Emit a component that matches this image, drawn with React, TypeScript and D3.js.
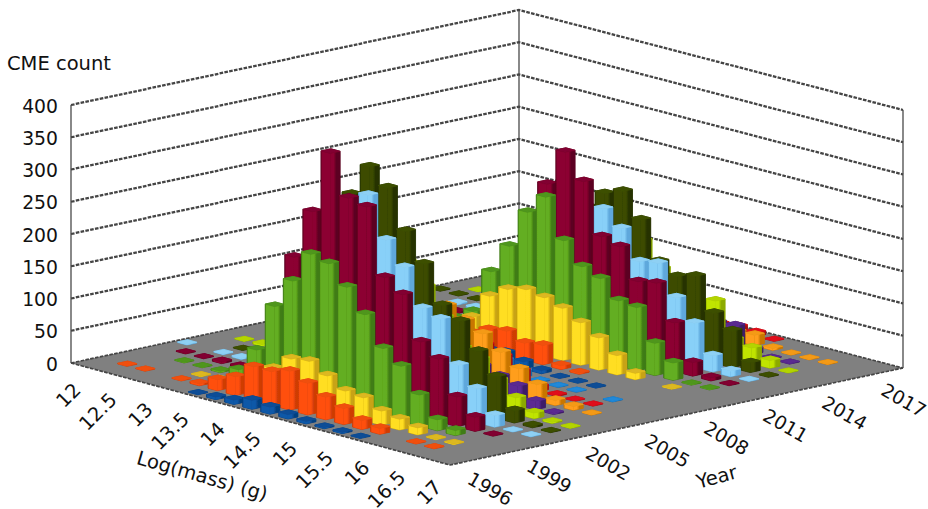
import React from "react";
import * as d3 from "d3";

const massTicks = ["12","12.5","13","13.5","14","14.5","15","15.5","16","16.5","17"];
const yearTicks = ["1996","1999","2002","2005","2008","2011","2014","2017"];
const countTicks = [0,50,100,150,200,250,300,350,400];
const massBins = d3.range(21);
const years = d3.range(1996,2019);

const y1996 = [0,0,0,0,0,0,1,4,7,14,11,7,4,2,2,1,0,0,0,0,0];
const y1997 = [0,1,1,0,1,3,17,29,52,52,60,49,35,25,14,9,0,1,1,0,0];
const y1998 = [0,0,0,0,1,3,10,25,43,65,69,54,38,35,22,17,11,1,1,0,0];
const y1999 = [0,0,1,1,2,12,50,125,172,221,214,185,150,105,85,48,17,8,0,0,0];
const y2000 = [0,1,1,3,3,15,70,195,273,371,309,303,201,182,116,97,46,22,1,0,0];
const y2001 = [1,0,1,2,5,25,60,120,180,270,307,245,210,154,145,81,52,18,1,1,0];
const y2002 = [0,0,1,5,20,60,120,200,287,337,312,252,209,152,135,96,64,19,3,1,0];
const y2003 = [0,1,3,5,8,15,30,60,100,150,190,160,120,80,70,45,25,9,2,1,0];
const y2004 = [0,0,0,1,2,4,8,15,30,60,80,70,55,45,37,29,13,2,0,0,0];
const y2005 = [0,0,0,0,1,3,6,15,30,50,110,95,81,60,42,25,8,6,1,0,0];
const y2006 = [0,0,0,0,0,1,2,3,8,20,40,50,40,25,8,2,1,1,0,0,0];
const y2007 = [0,0,0,0,0,0,1,2,10,20,25,20,10,2,1,1,0,1,0,0,0];
const y2008 = [0,0,0,0,0,0,1,3,10,15,18,11,5,1,1,1,0,0,0,0,0];
const y2009 = [0,0,0,0,0,3,8,20,32,37,26,30,6,2,0,0,0,0,0,0,0];
const y2010 = [0,0,0,0,3,10,30,70,88,95,90,81,66,50,30,10,0,1,0,0,0];
const y2011 = [0,0,0,2,8,25,94,141,201,232,172,139,128,101,98,50,27,1,1,0,0];
const y2012 = [0,0,1,3,6,20,100,186,238,295,257,179,171,124,129,75,21,5,1,0,0];
const y2013 = [0,0,2,3,10,30,70,120,170,200,208,185,141,146,100,68,25,9,1,0,0];
const y2014 = [1,1,1,3,12,40,80,130,190,218,229,192,135,119,127,77,57,15,1,0,0];
const y2015 = [0,1,1,1,2,5,15,40,80,120,146,110,60,70,82,30,24,12,1,0,0];
const y2016 = [0,0,0,0,0,1,2,4,8,15,20,25,30,35,37,8,1,1,0,0,0];
const y2017 = [0,0,0,0,0,0,1,2,3,5,8,10,12,14,16,3,1,1,1,0,0];
const y2018 = [0,0,0,0,0,0,0,0,0,0,2,5,8,6,1,0,0,0,0,0,0];
const rows = [y1996,y1997,y1998,y1999,y2000,y2001,y2002,y2003,y2004,y2005,y2006,y2007,y2008,y2009,y2010,y2011,y2012,y2013,y2014,y2015,y2016,y2017,y2018];

const palette = [
  ["#0a58a8","#064080","#0a4d96"],
  ["#ff5010","#cf3c06","#f0500f"],
  ["#ffde20","#c8a312","#dcb820"],
  ["#64ae20","#3f7c14","#4f961c"],
  ["#8c0030","#5c0020","#820030"],
  ["#88d0f8","#5ea8dc","#8ed0f4"],
  ["#3c4c00","#263200","#3e5000"],
  ["#c0e400","#8caa00","#b4d400"],
  ["#5c2c94","#3e1c68","#5a2a90"],
  ["#ff9e1c","#c87600","#f49a18"],
  ["#e2101c","#a80a10","#e0101a"],
  ["#2088d8","#1668a8","#2088d8"],
];

const L: [number,number] = [71,363], F: [number,number] = [450,465], R: [number,number] = [903,368], B: [number,number] = [519,268];
const uScale = d3.scaleLinear().domain([0,21]).range([0,1]);
const vScale = d3.scaleLinear().domain([0,23]).range([0,1]);
const zScale = d3.scaleLinear().domain([0,400]).range([0,258]);
function proj(i: number, j: number, h = 0): [number,number] {
  const u = uScale(i), v = vScale(j);
  const x = (1-u)*(1-v)*L[0] + u*(1-v)*F[0] + u*v*R[0] + (1-u)*v*B[0];
  const y = (1-u)*(1-v)*L[1] + u*(1-v)*F[1] + u*v*R[1] + (1-u)*v*B[1];
  return [x, y - zScale(h)];
}
const line = d3.line();
const poly = (pts: [number,number][]) => line(pts) + "Z";
const half = 0.255;

type Bar = { i: number; j: number; h: number };
const bars: Bar[] = [];
massBins.forEach(i => { for (let j = years.length-1; j >= 0; j--) { const h = rows[j][i]; if (h > 0) bars.push({ i, j, h }); } });

function Prism({ i, j, h }: Bar) {
  const ci = i + 0.5, cj = j + 0.5;
  const c = palette[j % 12];
  const corner = (a: number, b: number, z: number) => proj(ci + a*half, cj + b*half, z);
  const left0 = corner(-1,-1,0), front0 = corner(1,-1,0), right0 = corner(1,1,0);
  const left = corner(-1,-1,h), front = corner(1,-1,h), right = corner(1,1,h), back = corner(-1,1,h);
  return (
    <g>
      <path d={poly([left0,front0,right0,right,back,left])} fill={c[1]} stroke={c[1]} strokeWidth={0.8} strokeLinejoin="round" />
      <path d={poly([left0,front0,front,left])} fill={`url(#lft${j % 12})`} />
      <path d={poly([front0,right0,right,front])} fill={`url(#side${j % 12})`} />
      <path d={poly([left,front,right,back])} fill={c[2]} stroke={c[2]} strokeWidth={0.8} strokeLinejoin="round" />
    </g>
  );
}

const gridStyle = { stroke: "#444", strokeWidth: 2.3, strokeDasharray: "3.6 1.3", fill: "none" };

export default function App() {
  const font = "'DejaVu Sans', sans-serif";
  return (
    <svg width={928} height={509} viewBox="0 0 928 509" style={{ position: "absolute", left: 0, top: 0, background: "#fff", display: "block" }} fontFamily={font}>
      <defs>
        {palette.map((c, k) => (
          <linearGradient key={k} id={`side${k}`} x1="0" y1="0" x2="1" y2="0">
            <stop offset="0%" stopColor={c[0]} />
            <stop offset="35%" stopColor={c[0]} />
            <stop offset="62%" stopColor={c[1]} />
            <stop offset="100%" stopColor={c[1]} />
          </linearGradient>
        ))}
        {palette.map((c, k) => (
          <linearGradient key={k} id={`lft${k}`} x1="0" y1="0" x2="1" y2="0">
            <stop offset="0%" stopColor={c[1]} />
            <stop offset="14%" stopColor={c[0]} />
            <stop offset="100%" stopColor={c[0]} />
          </linearGradient>
        ))}
        <filter id="soft" x="-5%" y="-5%" width="110%" height="110%"><feGaussianBlur stdDeviation="0.5" /></filter>
      </defs>
      <g filter="url(#soft)">
        {[L,B,R].map((p, k) => (
          <line key={k} x1={p[0]} y1={p[1]} x2={p[0]} y2={p[1]-zScale(400)} stroke="#7c7c7c" strokeWidth={1.8} />
        ))}
        {countTicks.filter(t => t > 0).map(t => (
          <path key={t} d={line([[L[0],L[1]-zScale(t)],[B[0],B[1]-zScale(t)],[R[0],R[1]-zScale(t)]])!} {...gridStyle} />
        ))}
        <path d={poly([L,F,R,B])} fill="#808080" />
        <path d={line([L,F,R])!} {...gridStyle} strokeWidth={1.7} />
        <path d={line([L,B,R])!} {...gridStyle} strokeWidth={1.7} />
        {bars.map(b => <Prism key={`${b.i}-${b.j}`} {...b} />)}
      </g>
      <g fill="#111" fontSize={19.5}>
        <text x={7} y={70}>CME count</text>
        {countTicks.map(t => (
          <text key={t} x={58} y={L[1]-zScale(t)+2} textAnchor="end" dominantBaseline="middle" fontSize={18.8}>{t}</text>
        ))}
        {massTicks.map((t, k) => {
          const [x, y] = proj(2*k+0.5, 0);
          return <text key={t} transform={`translate(${x-2},${y+22}) rotate(-45)`} textAnchor="end" dominantBaseline="middle">{t}</text>;
        })}
        {yearTicks.map((t, k) => {
          const [x, y] = proj(21, 3*k+0.5);
          return <text key={t} transform={`translate(${x+9},${y+15}) rotate(30)`} textAnchor="start" dominantBaseline="middle" fontSize={18.8}>{t}</text>;
        })}
        <text transform="translate(202,477) rotate(16)" textAnchor="middle" dominantBaseline="middle">Log(mass) (g)</text>
        <text transform="translate(717,478) rotate(-15)" textAnchor="middle" dominantBaseline="middle">Year</text>
      </g>
    </svg>
  );
}
